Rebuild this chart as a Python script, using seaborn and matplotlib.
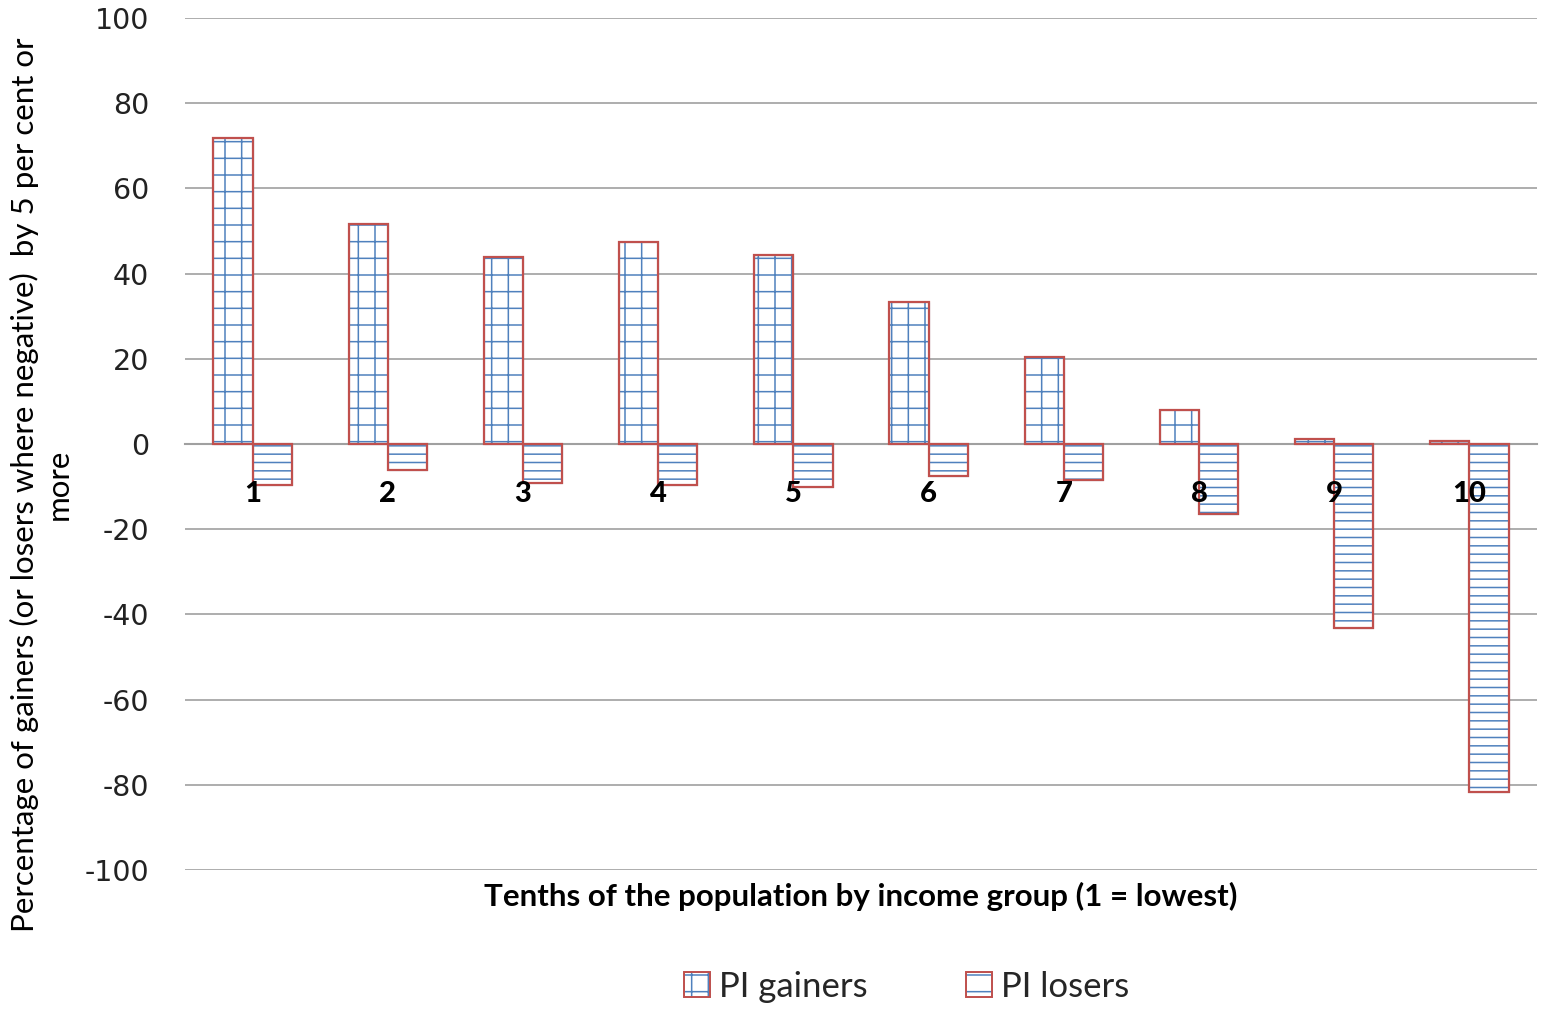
import pandas as pd
import numpy as np
import matplotlib.pyplot as plt
import matplotlib.transforms as mtransforms
import seaborn as sns
from matplotlib.patches import Rectangle, Patch
from matplotlib.legend_handler import HandlerTuple

# Data
deciles = ['1', '2', '3', '4', '5', '6', '7', '8', '9', '10']
gainers = [71.8, 51.6, 43.9, 47.4, 44.4, 33.3, 20.4, 8.0, 1.2, 0.7]
losers = [-9.6, -6.1, -9.2, -9.6, -10.1, -7.5, -8.5, -16.4, -43.2, -81.7]
series = ['PI gainers', 'PI losers']
yticks = [100, 80, 60, 40, 20, 0, -20, -40, -60, -80, -100]

blue = '#4f81bd'
red = '#c0504d'
grid_grey = '#a0a0a0'

sns.set_theme(style="white")
plt.rcParams['font.family'] = ['Lato', 'DejaVu Sans']
plt.rcParams['hatch.linewidth'] = 1.1

df = pd.DataFrame({
    'decile': deciles * 2,
    'value': gainers + losers,
    'series': [series[0]] * len(deciles) + [series[1]] * len(deciles),
})

fig = plt.figure(figsize=(15.47, 10.09), dpi=100)
ax = fig.add_axes([0.1196, 0.1378, 0.8739, 0.8444])

sns.barplot(data=df, x='decile', y='value', hue='series', hue_order=series,
            order=deciles, width=0.58, palette=['white', 'white'],
            legend=False, ax=ax)

# hatch in blue, outline in red (drawn as separate overlay)
hatches = {series[0]: '+', series[1]: '--'}
n = len(deciles)
for i, bar in enumerate(list(ax.patches)):
    s = series[0] if i < n else series[1]
    bar.set_hatch(hatches[s])
    bar.set_edgecolor(blue)
    bar.set_linewidth(0.8)
    bar.set_zorder(2)
    ax.add_patch(Rectangle(bar.get_xy(), bar.get_width(), bar.get_height(),
                           fill=False, edgecolor=red, linewidth=1.6, zorder=3))

ax.set_ylim(-100, 100)
ax.set_xlim(-0.5, n - 0.5)
ax.set_yticks(yticks)
ax.set_yticklabels([str(t) for t in yticks])
ax.tick_params(axis='y', length=0, pad=26, labelsize=20.5,
               labelcolor='#222222', labelfontfamily='DejaVu Sans')
ax.yaxis.grid(True, color=grid_grey, linewidth=1.2)
ax.set_axisbelow(True)

for side in ['top', 'right', 'left']:
    ax.spines[side].set_visible(False)
ax.spines['bottom'].set_position(('data', 0))
ax.spines['bottom'].set_color(grid_grey)
ax.spines['bottom'].set_linewidth(1.5)

# tick marks at category boundaries, labels drawn on top of the bars
ax.set_xticks(np.arange(n + 1) - 0.5)
ax.set_xticklabels([])
ax.tick_params(axis='x', length=10, width=1.5, color=grid_grey, direction='out')
ax.set_xlabel('')
ax.set_ylabel('')

below = mtransforms.offset_copy(ax.transData, fig=fig, x=0, y=-50, units='dots')
for i, lab in enumerate(deciles):
    ax.text(i, 0, lab, transform=below, ha='center', va='center',
            fontsize=21, fontweight='black', color='black', zorder=5)

ax.text(0.5, -0.031, 'Tenths of the population by income group (1 = lowest)',
        transform=ax.transAxes, ha='center', va='center', fontsize=22.5,
        fontweight='bold', color='black')

fig.text(0.027, 0.52,
         'Percentage of gainers (or losers where negative)  by 5 per cent or\nmore',
         rotation=90, ha='center', va='center', multialignment='center',
         fontsize=22.5, color='black', linespacing=1.25)

def legend_handle(h):
    return (Patch(facecolor='white', edgecolor=blue, hatch=h, linewidth=0.5),
            Patch(fill=False, edgecolor=red, linewidth=1.4))

handles = [legend_handle('+'), legend_handle('-')]
fig.legend(handles, series, loc='center', bbox_to_anchor=(0.586, 0.022),
           ncol=2, frameon=False, fontsize=25, columnspacing=2.85,
           handlelength=0.75, handleheight=0.75, handletextpad=0.25,
           handler_map={tuple: HandlerTuple(ndivide=1)})

fig.savefig('out.png', dpi=100)
